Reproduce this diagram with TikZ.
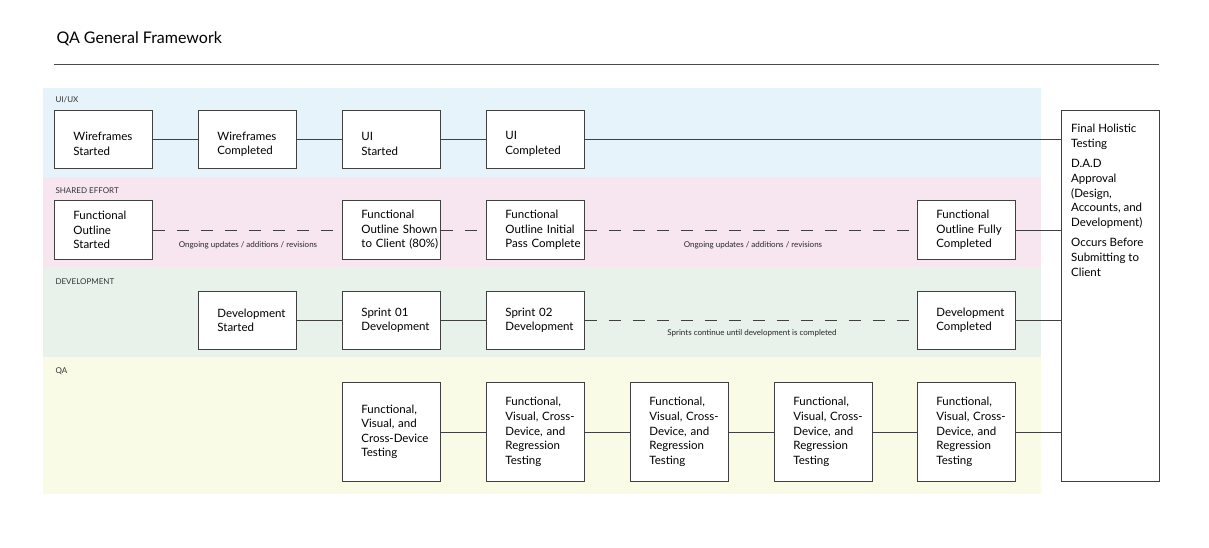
\documentclass[tikz,border=0pt]{standalone}
\usepackage{fontspec}
\setmainfont{Lato}
\begin{document}
\begin{tikzpicture}[x=1pt,y=-1pt,
 box/.style={draw=black!75,fill=white,line width=0.8pt,minimum width=98pt,text width=80pt,align=left,font=\fontsize{11.5}{14.6}\selectfont,inner sep=0pt,anchor=north west},
 band/.style={anchor=north west},
 lane/.style={font=\fontsize{8}{9}\selectfont,anchor=west,text=black!80},
 con/.style={draw=black!75,line width=0.8pt},
 dsh/.style={con,dash pattern=on 12pt off 12pt},
 lbl/.style={font=\fontsize{8}{9}\selectfont,text=black!85}]
\useasboundingbox (0,0) rectangle (1209,548);
\fill[fill={rgb,255:red,230;green,243;blue,251}] (43,88) rectangle (1041,177);
\fill[fill={rgb,255:red,247;green,230;blue,240}] (43,177) rectangle (1041,267);
\fill[fill={rgb,255:red,232;green,242;blue,234}] (43,267) rectangle (1041,357);
\fill[fill={rgb,255:red,249;green,251;blue,230}] (43,357) rectangle (1041,494);
\node[anchor=west,font=\fontsize{16}{19}\selectfont] (title) at (53,39) {QA General Framework};
\coordinate (r1) at (54,64); \coordinate (r2) at (1159,64);
\draw[black!70,line width=0.8pt] (r1) -- (r2);
\node[lane] (l1) at (52,100) {UI/UX};
\node[lane] (l2) at (52,191) {SHARED EFFORT};
\node[lane] (l3) at (52,282) {DEVELOPMENT};
\node[lane] (l4) at (52,371) {QA};
% boxes: minimum height per row
\tikzset{r1/.style={box,minimum height=58pt,text depth=0pt},r2/.style={box,minimum height=59pt},r3/.style={box,minimum height=58pt},r4/.style={box,minimum height=99pt}}
\node[r1] (u1) at (54,110) {\hspace*{10pt}\parbox{80pt}{Wireframes\\Started}};
\node[r1] (u2) at (198,110) {\hspace*{10pt}\parbox{80pt}{Wireframes\\Completed}};
\node[r1] (u3) at (342,110) {\hspace*{10pt}\parbox{80pt}{UI\\Started}};
\node[r1] (u4) at (486,110) {\hspace*{10pt}\parbox{80pt}{UI\\Completed}};
\node[r2] (s1) at (54,200) {\hspace*{10pt}\parbox{80pt}{Functional\\Outline\\Started}};
\node[r2] (s3) at (342,200) {\hspace*{10pt}\parbox{88pt}{Functional\\Outline Shown\\to Client (80\%)}};
\node[r2] (s4) at (486,200) {\hspace*{10pt}\parbox{88pt}{Functional\\Outline Initial\\Pass Complete}};
\node[r2] (s7) at (917,200) {\hspace*{10pt}\parbox{88pt}{Functional\\Outline Fully\\Completed}};
\node[r3] (d2) at (198,291) {\hspace*{10pt}\parbox{88pt}{Development\\Started}};
\node[r3] (d3) at (342,291) {\hspace*{10pt}\parbox{80pt}{Sprint 01\\Development}};
\node[r3] (d4) at (486,291) {\hspace*{10pt}\parbox{80pt}{Sprint 02\\Development}};
\node[r3] (d7) at (917,291) {\hspace*{10pt}\parbox{88pt}{Development\\Completed}};
\node[r4] (q3) at (342,382) {\hspace*{10pt}\parbox{80pt}{Functional,\\Visual, and\\Cross-Device\\Testing}};
\node[r4] (q4) at (486,382) {\hspace*{10pt}\parbox{80pt}{Functional,\\Visual, Cross-\\Device, and\\Regression\\Testing}};
\node[r4] (q5) at (630,382) {\hspace*{10pt}\parbox{80pt}{Functional,\\Visual, Cross-\\Device, and\\Regression\\Testing}};
\node[r4] (q6) at (774,382) {\hspace*{10pt}\parbox{80pt}{Functional,\\Visual, Cross-\\Device, and\\Regression\\Testing}};
\node[r4] (q7) at (917,382) {\hspace*{10pt}\parbox{80pt}{Functional,\\Visual, Cross-\\Device, and\\Regression\\Testing}};
\node[box,minimum height=371pt] (fin) at (1061,110) {};
\node[anchor=north west,align=left,font=\fontsize{11.5}{14.6}\selectfont,inner sep=0pt] (fintxt) at (1071,124) {Final Holistic\\Testing\\[6pt]D.A.D\\Approval\\(Design,\\Accounts, and\\Development)\\[6pt]Occurs Before\\Submitting to\\Client};
% connectors
\draw[con] (u1) -- (u2); \draw[con] (u2) -- (u3); \draw[con] (u3) -- (u4);
\draw[con] (u4.east) -- (u4.east -| fin.west);
\draw[dsh] (s1) -- (s3); \draw[dsh] (s3) -- (s4); \draw[dsh] (s4) -- (s7);
\draw[con] (s7) -- (s7.east -| fin.west);
\node[lbl] (t1) at (248,245) {Ongoing updates / additions / revisions};
\node[lbl] (t2) at (753,245) {Ongoing updates / additions / revisions};
\draw[con] (d2) -- (d3); \draw[con] (d3) -- (d4); \draw[dsh] (d4) -- (d7);
\draw[con] (d7) -- (d7.east -| fin.west);
\node[lbl] (t3) at (752,333) {Sprints continue until development is completed};
\draw[con] (q3) -- (q4); \draw[con] (q4) -- (q5); \draw[con] (q5) -- (q6); \draw[con] (q6) -- (q7);
\draw[con] (q7) -- (q7.east -| fin.west);
\end{tikzpicture}
\end{document}
